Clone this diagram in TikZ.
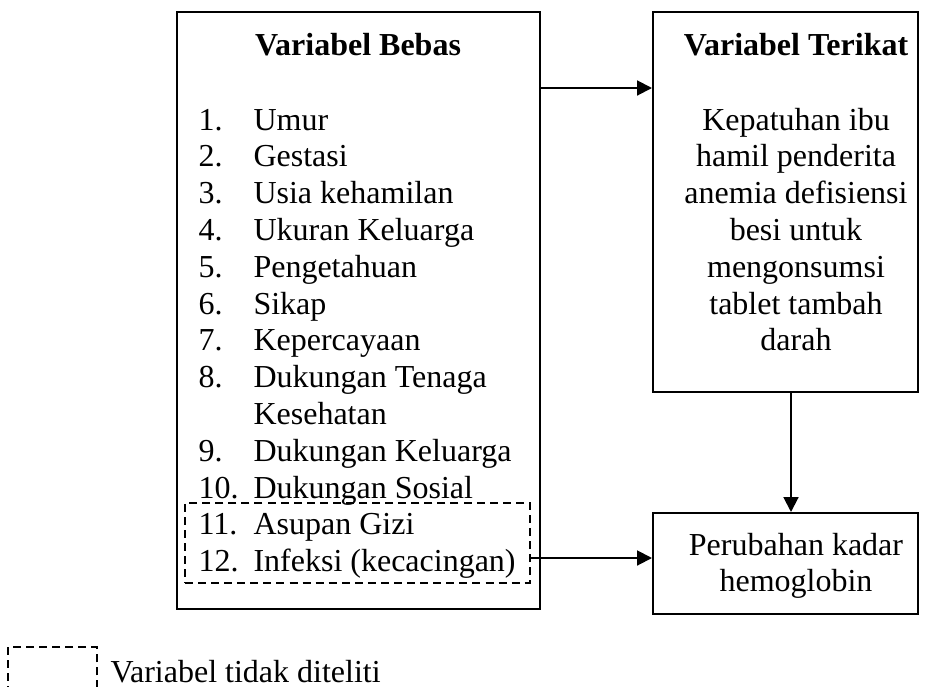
\documentclass[tikz,border=0pt]{standalone}
\usepackage{fontspec}
\setmainfont{Liberation Serif}
\usetikzlibrary{arrows.meta}
\tikzset{
  kotak/.style={draw, line width=0.75pt, rectangle, inner sep=0pt},
  putus/.style={draw, line width=0.55pt, dash pattern=on 3pt off 1.9pt, rectangle, inner sep=0pt},
  teks/.style={font=\fontsize{12}{14}\selectfont, inner sep=0pt, anchor=base west},
  tengah/.style={font=\fontsize{12}{14}\selectfont, inner sep=0pt, anchor=base},
  judul/.style={tengah, font=\fontsize{12}{14}\selectfont\bfseries},
  panah/.style={line width=0.75pt, -{Triangle[length=5.6pt,width=5.6pt]}}
}

\begin{document}
\begin{tikzpicture}[x=0.375pt, y=-0.375pt]
\useasboundingbox (0,0) rectangle (928,686);
% kotak-kotak
\node[kotak, minimum width=363*0.375pt, minimum height=597*0.375pt] (bebas) at (358.5,310.5) {};
\node[kotak, minimum width=265*0.375pt, minimum height=380*0.375pt] (terikat) at (785.5,202) {};
\node[kotak, minimum width=265*0.375pt, minimum height=101*0.375pt] (hb) at (785.5,563.5) {};
\node[putus, minimum width=345*0.375pt, minimum height=80*0.375pt] (gizi) at (357.5,543) {};
%
\node[judul] (jb) at (358,55) {Variabel Bebas};
\node[judul] (jt) at (796,55) {Variabel Terikat};
% daftar variabel bebas
\foreach \no/\isi [count=\i] in {1./Umur, 2./Gestasi, 3./Usia kehamilan, 4./Ukuran Keluarga,
  5./Pengetahuan, 6./Sikap, 7./Kepercayaan, 8./Dukungan Tenaga, /Kesehatan,
  9./Dukungan Keluarga, 10./Dukungan Sosial, 11./Asupan Gizi, 12./Infeksi (kecacingan)}{
  \node[teks] (no\i) at (198,{93.2+36.8*\i}) {\no};
  \node[teks] (isi\i) at (253,{93.2+36.8*\i}) {\isi};
}
% variabel terikat
\foreach \isi [count=\i] in {Kepatuhan ibu, hamil penderita, anemia defisiensi, besi untuk,
  mengonsumsi, tablet tambah, darah}{
  \node[tengah] (t\i) at (796,{93.2+36.8*\i}) {\isi};
}
\node[tengah] (hb1) at (796,555) {Perubahan kadar};
\node[tengah] (hb2) at (796,591) {hemoglobin};
% panah
\coordinate (a1) at (540,88);
\coordinate (a2) at (530,558);
\coordinate (a3) at (791,0);
\draw[panah] (a1) -- (a1 -| terikat.west);
\draw[panah] (a2) -- (a2 -| hb.west);
\draw[panah] (terikat.south -| a3) -- (hb.north -| a3);
% keterangan
\node[putus, minimum width=89*0.375pt, minimum height=70*0.375pt] (ket) at (52.5,682) {};
\node[teks] (ketteks) at (110,682) {Variabel tidak diteliti};
\end{tikzpicture}
\end{document}
